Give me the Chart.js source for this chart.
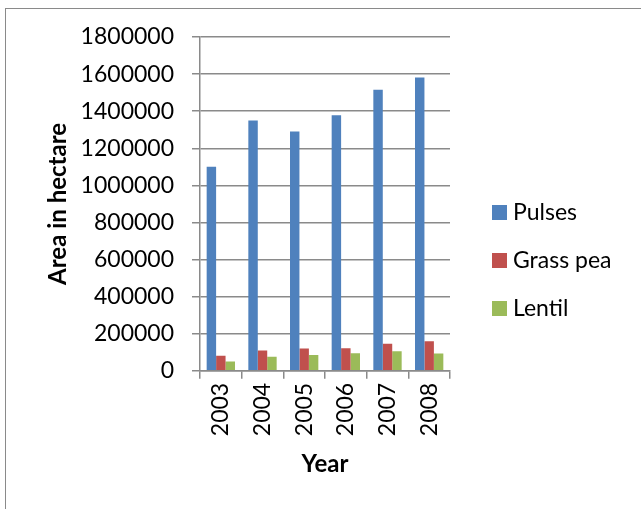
<!DOCTYPE html>
<html>
<head>
<meta charset="utf-8">
<script src="https://cdn.jsdelivr.net/npm/chart.js@4.4.1/dist/chart.umd.min.js"></script>
<style>
  html, body { margin: 0; padding: 0; background: #fff; overflow: hidden; }
  #wrap { position: relative; width: 641px; height: 509px; }
  #frame { position: absolute; left: 5px; top: 8px; width: 700px; height: 600px; border: 1px solid #8a8a8a; box-sizing: border-box; }
  canvas { position: absolute; left: 0; top: 0; }
</style>
</head>
<body>
<div id="wrap">
  <div id="frame"></div>
  <canvas id="areaChart" width="641" height="509"></canvas>
</div>
<script>
// data
const years = ["2003", "2004", "2005", "2006", "2007", "2008"];
const pulses = [1100000, 1350000, 1290000, 1378000, 1516000, 1582000];
const grassPea = [81000, 110000, 121000, 122000, 146000, 159000];
const lentil = [50000, 76000, 85000, 95000, 105000, 94000];
const yTicks = [0, 200000, 400000, 600000, 800000, 1000000, 1200000, 1400000, 1600000, 1800000];

const seriesNames = ["Pulses", "Grass pea", "Lentil"];
const seriesColors = ["#4F81BD", "#C0504D", "#9BBB59"];

const FONT = "Lato, 'Open Sans', sans-serif";

// legend drawn by hand, to the right of the plot
const sideLegend = {
  id: "sideLegend",
  afterDraw(chart) {
    const ctx = chart.ctx;
    ctx.save();
    ctx.font = "23px " + FONT;
    ctx.textBaseline = "middle";
    chart.data.datasets.forEach((ds, i) => {
      const y = 212 + i * 48;
      ctx.fillStyle = ds.backgroundColor;
      ctx.fillRect(492, y - 7, 15, 15);
      ctx.fillStyle = "#000";
      ctx.fillText(ds.label, 513, y + 1);
    });
    ctx.restore();
  }
};

const ctx = document.getElementById("areaChart").getContext("2d");
new Chart(ctx, {
  type: "bar",
  data: {
    labels: years,
    datasets: [
      { label: seriesNames[0], data: pulses, backgroundColor: seriesColors[0] },
      { label: seriesNames[1], data: grassPea, backgroundColor: seriesColors[1] },
      { label: seriesNames[2], data: lentil, backgroundColor: seriesColors[2] },
    ],
  },
  options: {
    responsive: false,
    devicePixelRatio: 1,
    animation: false,
    layout: { padding: { left: 44, top: 37, right: 191, bottom: 26 } },
    datasets: { bar: { categoryPercentage: 0.68, barPercentage: 1.0 } },
    plugins: { legend: { display: false }, tooltip: { enabled: false } },
    scales: {
      x: {
        grid: { drawOnChartArea: false, drawTicks: true, tickLength: 8, color: "#8a8a8a", lineWidth: 1.5, offset: true },
        border: { color: "#8a8a8a", width: 1.5 },
        ticks: { color: "#000", font: { family: FONT, size: 23 }, minRotation: 90, maxRotation: 90, padding: 4 },
        title: { display: true, text: "Year", color: "#000", font: { family: FONT, size: 24, weight: "bold" }, padding: { top: 10 } },
      },
      y: {
        min: 0,
        max: 1800000,
        afterBuildTicks: (scale) => { scale.ticks = yTicks.map((v) => ({ value: v })); },
        afterFit: (scale) => { scale.width = 156; },
        grid: { color: "#8a8a8a", lineWidth: 1.5, tickLength: 8 },
        border: { color: "#8a8a8a", width: 1.5 },
        ticks: { color: "#000", font: { family: FONT, size: 23 }, padding: 18, callback: (v) => String(v) },
        title: { display: true, text: "Area in hectare", color: "#000", font: { family: FONT, size: 24, weight: "bold" }, padding: 0 },
      },
    },
  },
  plugins: [sideLegend],
});
</script>
</body>
</html>
